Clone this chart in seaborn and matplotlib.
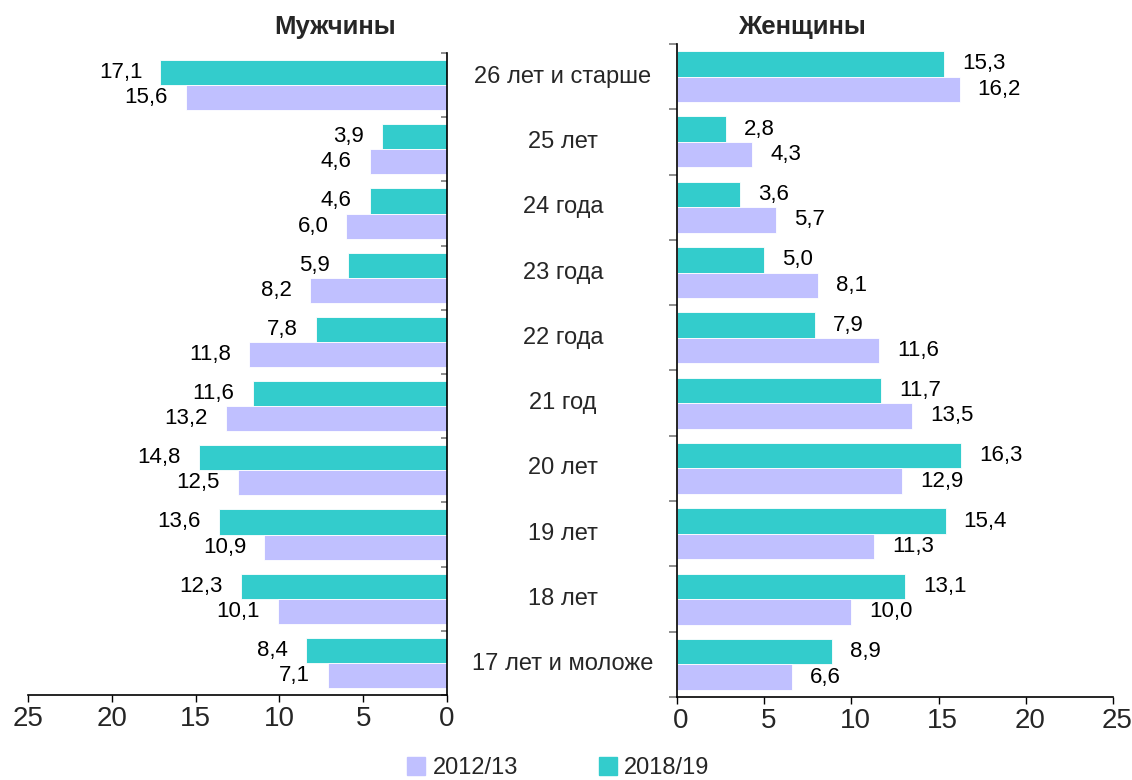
import matplotlib
matplotlib.use("Agg")
import matplotlib.pyplot as plt
from matplotlib.transforms import blended_transform_factory, ScaledTranslation
from matplotlib.lines import Line2D
import seaborn as sns
import pandas as pd
import numpy as np

categories = ["26 лет и старше", "25 лет", "24 года", "23 года", "22 года",
              "21 год", "20 лет", "19 лет", "18 лет", "17 лет и моложе"]
men_2018 = [17.1, 3.9, 4.6, 5.9, 7.8, 11.6, 14.8, 13.6, 12.3, 8.4]
men_2012 = [15.6, 4.6, 6.0, 8.2, 11.8, 13.2, 12.5, 10.9, 10.1, 7.1]
women_2018 = [15.3, 2.8, 3.6, 5.0, 7.9, 11.7, 16.3, 15.4, 13.1, 8.9]
women_2012 = [16.2, 4.3, 5.7, 8.1, 11.6, 13.5, 12.9, 11.3, 10.0, 6.6]
years = ["2018/19", "2012/13"]
titles = ["Мужчины", "Женщины"]
xticks = [0, 5, 10, 15, 20, 25]

sns.set_theme(style="white")
plt.rcParams["font.family"] = ["Liberation Sans", "DejaVu Sans"]

palette = {"2018/19": "#33CCCC", "2012/13": "#C0C0FF"}

def long_df(v2018, v2012):
    return pd.DataFrame({
        "cat": categories * 2,
        "year": [years[0]] * len(categories) + [years[1]] * len(categories),
        "val": list(v2018) + list(v2012),
    })

W, H = 1132, 780
fig = plt.figure(figsize=(W / 100, H / 100), dpi=100)
ax_l = fig.add_axes([28 / W, 1 - 695 / H, 419 / W, 642 / H])
ax_r = fig.add_axes([677 / W, 1 - 697 / H, 436 / W, 653 / H])

LABEL_FS = 16
PAD_PT = 13

for ax, (v18, v12), sign in [(ax_l, (men_2018, men_2012), -1), (ax_r, (women_2018, women_2012), 1)]:
    df = long_df(v18, v12)
    sns.barplot(data=df, y="cat", x="val", hue="year", order=categories,
                hue_order=years, palette=palette, orient="h", width=0.78,
                legend=False, ax=ax, saturation=1, edgecolor="white", linewidth=0.6)
    for cont in ax.containers:
        for rect, v in zip(cont.patches, cont.datavalues):
            yc = rect.get_y() + rect.get_height() / 2
            ax.annotate(f"{v:.1f}".replace(".", ","), xy=(v, yc),
                        xytext=(sign * PAD_PT, 0), textcoords="offset points",
                        ha="left" if sign > 0 else "right", va="center",
                        fontsize=LABEL_FS, color="black")
    ax.set_ylim(len(categories) - 0.5, -0.5)
    ax.set_ylabel("")
    ax.set_xlabel("")
    ax.set_xticks(xticks)
    ax.set_xticklabels([str(t) for t in xticks], fontsize=20)
    ax.set_yticks(np.arange(-0.5, len(categories), 1.0))
    ax.set_yticklabels([])
    ax.tick_params(axis="x", direction="out", length=5, width=1, color="black",
                   bottom=True, pad=3)
    for s in ax.spines.values():
        s.set_color("black")
        s.set_linewidth(1.2)
    ax.spines["top"].set_visible(False)
    ax.grid(False)

# left panel: reversed x, spine at right
ax_l.set_xlim(25, 0)
ax_l.spines["left"].set_visible(False)
ax_l.yaxis.tick_right()
ax_l.tick_params(axis="y", direction="in", length=4, color="#808080", right=True, left=False)

# right panel
ax_r.set_xlim(0, 25)
ax_r.spines["right"].set_visible(False)
ax_r.tick_params(axis="y", direction="out", length=6, color="#808080", left=True)
shift = ScaledTranslation(4 / 100, 0, fig.dpi_scale_trans)
for lab in ax_r.get_xticklabels():
    lab.set_transform(lab.get_transform() + shift)

# category labels in the middle
tr = blended_transform_factory(fig.transFigure, ax_r.transData)
for i, c in enumerate(categories):
    ax_r.text(563 / W, i, c, transform=tr, ha="center", va="center", fontsize=17)

# titles
fig.text(335 / W, 1 - 27 / H, titles[0], ha="center", va="center", fontsize=18.5, fontweight="bold")
fig.text(802 / W, 1 - 27 / H, titles[1], ha="center", va="center", fontsize=18.5, fontweight="bold")

# legend
handles = [Line2D([0], [0], marker="s", linestyle="", markersize=13,
                  markerfacecolor=palette[y], markeredgecolor=palette[y]) for y in ["2012/13", "2018/19"]]
fig.legend(handles, ["2012/13", "2018/19"], loc="center", bbox_to_anchor=(558 / W, 1 - 768 / H),
           ncol=2, frameon=False, fontsize=17, handlelength=0.8, handletextpad=0.3,
           columnspacing=3.4)

fig.savefig("out.png", dpi=100)
